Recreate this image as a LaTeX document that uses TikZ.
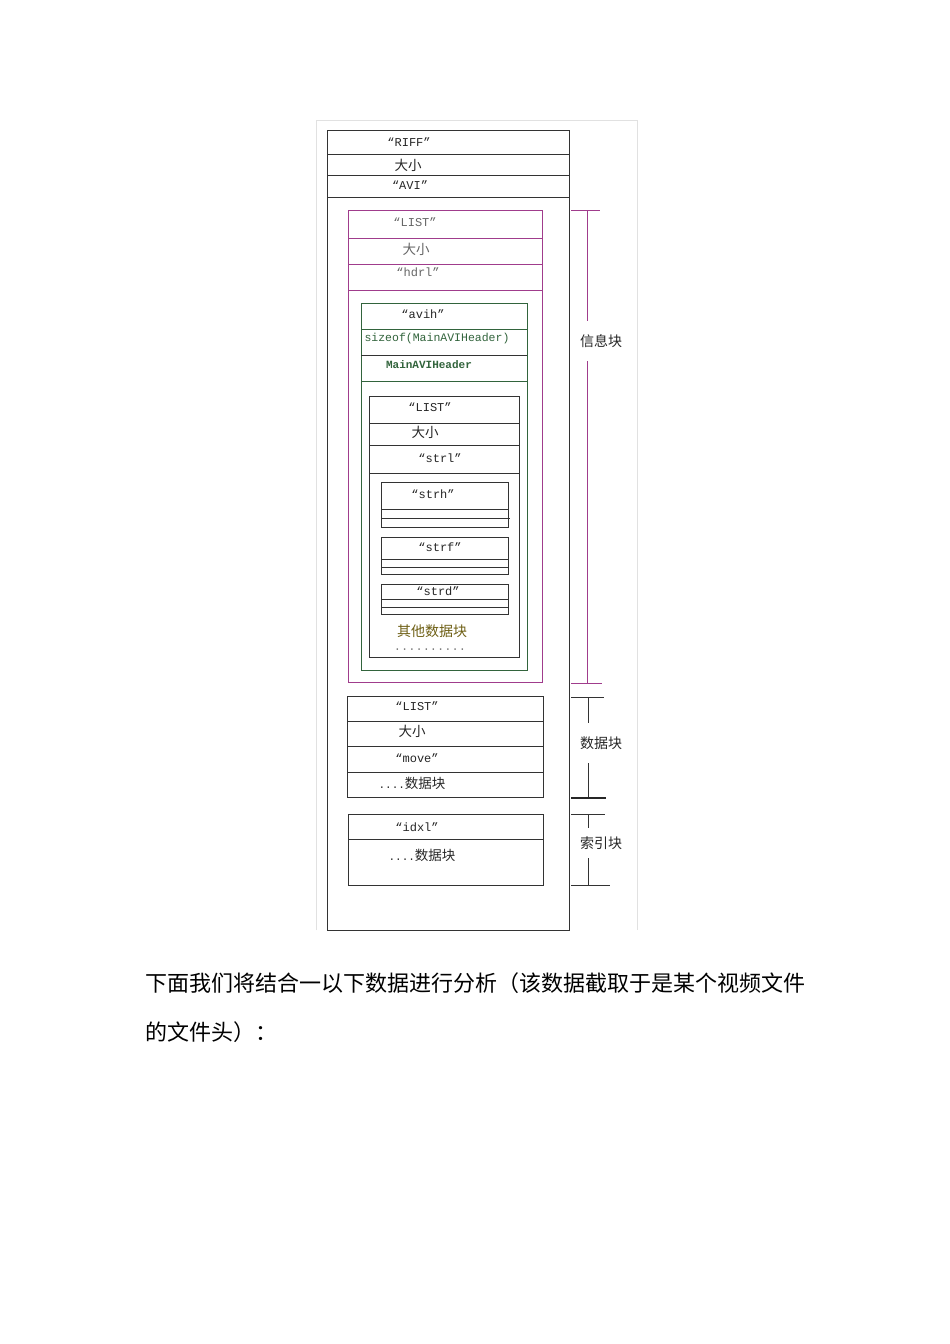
\documentclass[tikz,border=0pt]{standalone}
\usepackage{fontspec}
\newfontfamily\cjk{Noto Sans CJK SC}
\newfontfamily\mono{Liberation Mono}
\definecolor{mag}{RGB}{160,60,140}
\definecolor{grn}{RGB}{50,100,60}
\definecolor{olive}{RGB}{110,95,20}
\definecolor{frame}{RGB}{225,225,225}
\begin{document}
\begin{tikzpicture}[x=1pt,y=-1pt,
  box/.style={line width=1pt,draw=black!80},
  mbox/.style={line width=1pt,draw=mag},
  gbox/.style={line width=1pt,draw=grn},
  lat/.style={font=\mono\fontsize{12}{14}\selectfont,text=black!85,inner sep=0pt},
  zh/.style={font=\cjk\fontsize{13.5}{15}\selectfont,text=black!85,inner sep=0pt},
  side/.style={font=\cjk\fontsize{14}{16}\selectfont,text=black!85,inner xsep=0pt,fill=white},
  body/.style={font=\cjk\fontsize{22}{24}\selectfont,text=black,inner sep=0pt,anchor=west}]
\useasboundingbox (0,0) rectangle (950,1344);
\fill[white] (0,0) rectangle (950,1344);
% light frame
\draw[frame,line width=1pt] (316,930) -- (316,120) -- (637,120) -- (637,930);
% outer RIFF box
\draw[box] (327,930) -- (327,130) -- (569,130) -- (569,930) -- (327,930);
\draw[box] (327,154) -- (569,154);
\draw[box] (327,175) -- (569,175);
\draw[box] (327,197) -- (569,197);
\node[lat] (riff) at (409,142) {“RIFF”};
\node[zh] (size1) at (408,165) {大小};
\node[lat] (avi) at (410,185) {“AVI”};
% hdrl LIST (magenta)
\draw[mbox] (348,210) rectangle (542,682);
\draw[mbox] (348,238) -- (542,238);
\draw[mbox] (348,264) -- (542,264);
\draw[mbox] (348,290) -- (542,290);
\node[lat,text=black!60] (list1) at (415,222) {“LIST”};
\node[zh,text=black!60] (size2) at (416,249) {大小};
\node[lat,text=black!60] (hdrl) at (418,272) {“hdrl”};
% avih (green)
\draw[gbox] (361,303) rectangle (527,670);
\draw[gbox] (361,329) -- (527,329);
\draw[box] (361,355) -- (527,355);
\draw[gbox] (361,381) -- (527,381);
\node[lat] (avih) at (423,314) {“avih”};
\node[lat,font=\mono\fontsize{11.5}{13}\selectfont,text=grn] (sizeof) at (437,339) {sizeof(MainAVIHeader)};
\node[lat,font=\mono\bfseries\fontsize{11}{13}\selectfont,text=grn] (mainavi) at (429,365) {MainAVIHeader};
% strl LIST
\draw[box] (369,396) rectangle (519,657);
\draw[box] (369,423) -- (519,423);
\draw[box] (369,445) -- (519,445);
\draw[box] (369,473) -- (519,473);
\node[lat] (list2) at (430,407) {“LIST”};
\node[zh] (size3) at (425,432) {大小};
\node[lat] (strl) at (440,458) {“strl”};
% strh
\draw[box] (381,482) rectangle (508,527);
\draw[box] (381,509) -- (508,509);
\draw[box] (381,518) -- (510,518);
\node[lat] (strh) at (433,494) {“strh”};
% strf
\draw[box] (381,537) rectangle (508,574);
\draw[box] (381,559) -- (508,559);
\draw[box] (381,567) -- (508,567);
\node[lat] (strf) at (440,547) {“strf”};
% strd
\draw[box] (381,584) rectangle (508,614);
\draw[box] (381,599) -- (508,599);
\draw[box] (381,607) -- (508,607);
\node[lat] (strd) at (438,591) {“strd”};
\node[zh,text=olive,font=\cjk\fontsize{14}{16}\selectfont] (other) at (432,631) {其他数据块};
\node[lat,text=black!50] (dots1) at (430,650) {..........};
% movi LIST
\draw[box] (347,797) -- (347,696) -- (543,696) -- (543,797) -- (347,797);
\draw[box] (347,721) -- (543,721);
\draw[box] (347,746) -- (543,746);
\draw[box] (347,772) -- (543,772);
\node[lat] (list3) at (417,706) {“LIST”};
\node[zh] (size4) at (412,731) {大小};
\node[lat] (move) at (417,758) {“move”};
\node[zh] (data1) at (412,783) {{\mono\fontsize{11}{13}\selectfont....}数据块};
% idxl
\draw[box] (348,814) rectangle (543,885);
\draw[box] (348,839) -- (543,839);
\node[lat] (idxl) at (417,827) {“idxl”};
\node[zh] (data2) at (422,855) {{\mono\fontsize{11}{13}\selectfont....}数据块};
% side brackets
\draw[mag,line width=0.8pt] (571,210) -- (600,210);
\draw[mag,line width=0.8pt] (571,683) -- (602,683);
\draw[mag,line width=0.8pt] (587,210) -- (587,683);
\node[side,inner ysep=13pt] (info) at (601,341) {信息块};
\draw[black!80,line width=0.8pt] (571,697) -- (604,697);
\draw[black!80,line width=0.8pt] (588,697) -- (588,798);
\draw[black!85,line width=2pt] (571,798) -- (606,798);
\node[side,inner ysep=14pt] (datab) at (601,743) {数据块};
\draw[black!80,line width=0.8pt] (571,814) -- (605,814);
\draw[black!80,line width=0.8pt] (588,814) -- (588,885);
\draw[black!80,line width=0.8pt] (571,885) -- (610,885);
\node[side,inner ysep=9pt] (idxb) at (601,843) {索引块};
% body text
\node[body] (line1) at (145,983) {下面我们将结合一以下数据进行分析（该数据截取于是某个视频文件};
\node[body] (line2) at (145,1032) {的文件头）：};
\end{tikzpicture}
\end{document}
